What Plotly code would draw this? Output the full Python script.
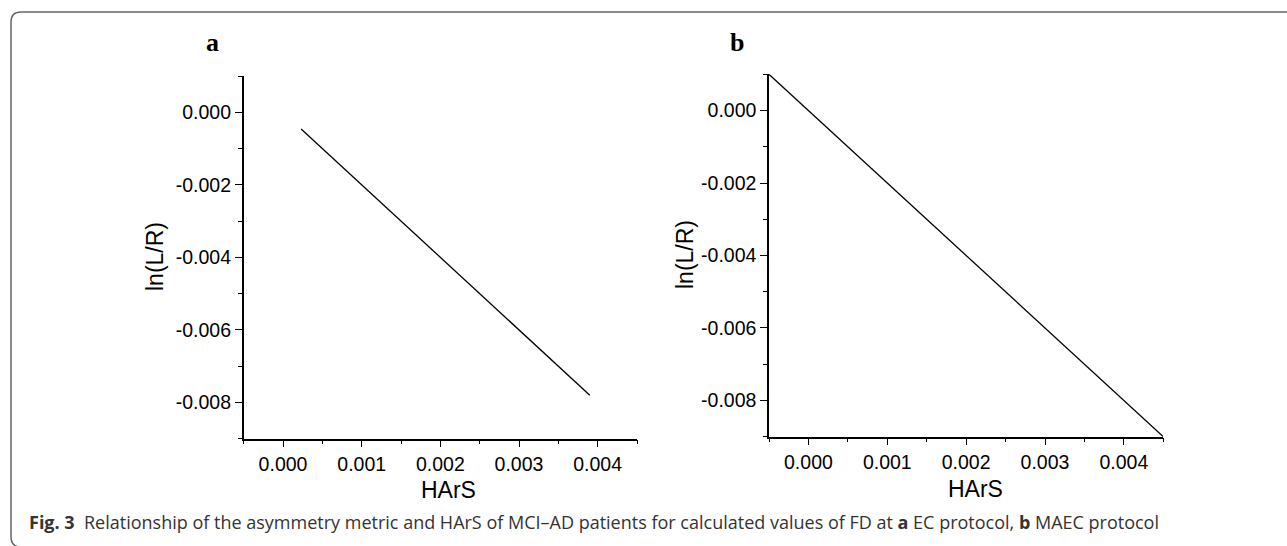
import plotly.graph_objects as go

# ---- data ----
harS_a = [0.00023, 0.0039]
lnLR_a = [-0.00046, -0.0078]
harS_b = [-0.0005, 0.0045]
lnLR_b = [0.001, -0.009]

x_tickvals = [0.000, 0.001, 0.002, 0.003, 0.004]
x_ticktext = ["0.000", "0.001", "0.002", "0.003", "0.004"]
y_tickvals = [0.000, -0.002, -0.004, -0.006, -0.008]
y_ticktext = ["0.000", "-0.002", "-0.004", "-0.006", "-0.008"]

panel_labels = ["a", "b"]
x_title = "HArS"
y_title = "ln(L/R)"
caption = ("<b>Fig. 3</b>  Relationship of the asymmetry metric and HArS of MCI\u2013AD patients "
           "for calculated values of FD at <b>a</b> EC protocol, <b>b</b> MAEC protocol")

W, H = 1287, 546
def px(x): return x / W
def py(y): return 1 - y / H

fig = go.Figure()
fig.add_trace(go.Scatter(x=harS_a, y=lnLR_a, mode="lines",
                         line=dict(color="black", width=1.3), xaxis="x", yaxis="y",
                         showlegend=False, hoverinfo="skip"))
fig.add_trace(go.Scatter(x=harS_b, y=lnLR_b, mode="lines",
                         line=dict(color="black", width=1.3), xaxis="x2", yaxis="y2",
                         showlegend=False, hoverinfo="skip"))

tickfont = dict(family="Liberation Sans, Arial, sans-serif", size=19.5, color="black")

def xaxis(domain, anchor):
    return dict(domain=domain, anchor=anchor, range=[-0.0005, 0.0045],
                tickvals=x_tickvals, ticktext=x_ticktext, ticks="outside",
                ticklen=7, tickwidth=1.3, tickcolor="black",
                minor=dict(ticks="outside", ticklen=4, tickwidth=1.3, tickcolor="black",
                           tick0=-0.0005, dtick=0.0005, showgrid=False),
                showline=True, linecolor="black", linewidth=1.5, mirror=False,
                showgrid=False, zeroline=False, tickfont=tickfont, fixedrange=True)

def yaxis(domain, anchor):
    return dict(domain=domain, anchor=anchor, range=[-0.009, 0.001],
                tickvals=y_tickvals, ticktext=y_ticktext, ticks="outside",
                ticklen=7, tickwidth=1.3, tickcolor="black",
                minor=dict(ticks="outside", ticklen=4, tickwidth=1.3, tickcolor="black",
                           tick0=-0.009, dtick=0.001, showgrid=False),
                showline=True, linecolor="black", linewidth=1.5, mirror=False,
                showgrid=False, zeroline=False, tickfont=tickfont, fixedrange=True)

fig.update_layout(
    width=W, height=H, margin=dict(l=0, r=0, t=0, b=0),
    paper_bgcolor="white", plot_bgcolor="white",
    xaxis=xaxis([px(243.7), px(637)], "y"),
    yaxis=yaxis([py(438.7), py(76)], "x"),
    xaxis2=xaxis([px(769), px(1163.3)], "y2"),
    yaxis2=yaxis([py(436.7), py(74.3)], "x2"),
)

titlefont = dict(family="Liberation Sans, Arial, sans-serif", size=23, color="black")
annotations = []
# axis titles
for cx, cy in [(448, 490), (975, 489)]:
    annotations.append(dict(x=px(cx), y=py(cy), xref="paper", yref="paper", text=x_title,
                            showarrow=False, font=titlefont, xanchor="center", yanchor="middle"))
for cx, cy in [(155, 257), (685, 255)]:
    annotations.append(dict(x=px(cx), y=py(cy), xref="paper", yref="paper", text=y_title,
                            showarrow=False, font=titlefont, textangle=-90,
                            xanchor="center", yanchor="middle"))
# panel labels
for lab, cx, cy in [(panel_labels[0], 212, 43), (panel_labels[1], 737, 43)]:
    annotations.append(dict(x=px(cx), y=py(cy), xref="paper", yref="paper", text="<b>" + lab + "</b>",
                            showarrow=False, xanchor="center", yanchor="middle",
                            font=dict(family="Liberation Serif, Times New Roman, serif", size=26, color="black")))
# caption
annotations.append(dict(x=px(27), y=py(522), xref="paper", yref="paper", text=caption,
                        showarrow=False, xanchor="left", yanchor="middle",
                        font=dict(family="Open Sans, Noto Sans, sans-serif", size=18, color="#333333")))
fig.update_layout(annotations=annotations)

# frame with rounded corners
r = 10
path = (f"M {px(W+5)},{py(12)} L {px(11+r)},{py(12)} Q {px(11)},{py(12)} {px(11)},{py(12+r)} "
        f"L {px(11)},{py(547-r)} Q {px(11)},{py(547)} {px(11+r)},{py(547)} L {px(W+5)},{py(547)}")
fig.add_shape(type="path", path=path, xref="paper", yref="paper",
              line=dict(color="#666666", width=1.5))

fig.write_html("out.html")
